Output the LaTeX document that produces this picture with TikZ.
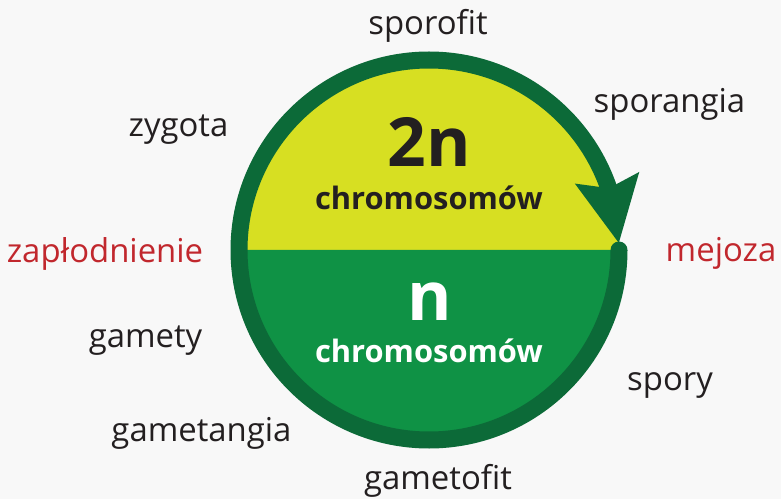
\documentclass[tikz,border=0pt]{standalone}
\usepackage{fontspec}
\setmainfont{Open Sans}
\usetikzlibrary{arrows.meta,bending}
\definecolor{ringgreen}{HTML}{0C6A38}
\definecolor{diplo}{HTML}{D7DF22}
\definecolor{haplo}{HTML}{0F9245}
\definecolor{labelred}{HTML}{C1272D}
\definecolor{labeltext}{HTML}{231F20}
\definecolor{bggray}{HTML}{F8F8F8}

\begin{document}
\begin{tikzpicture}[x=1bp, y=1bp,
        lbl/.style={anchor=base, inner sep=0pt, font=\fontsize{33}{36}\selectfont, text=labeltext},
        event/.style={lbl, text=labelred},
        ploidy/.style={anchor=base, inner sep=0pt, font=\fontsize{68}{70}\selectfont\bfseries},
        chrom/.style={anchor=base, inner sep=0pt, font=\fontsize{31}{34}\selectfont\bfseries},
        lifecycle/.style={line width=17bp, draw=ringgreen, line cap=round,
            -{Stealth[length=65bp, width=62bp, inset=9bp, flex]}}
    ]
        \fill[bggray] (0,0) rectangle (781,-499);
        \useasboundingbox (0,0) rectangle (781,-499);
        \coordinate (c) at (429,-250);

        % two halves of the disc
        \fill[diplo] (c) ++(190,0) arc[start angle=0, end angle=180, radius=190] -- cycle;
        \fill[haplo] (c) ++(-190,0) arc[start angle=180, end angle=360, radius=190] -- cycle;

        % ring with arrow
        \draw[lifecycle] (c) ++(0:190) arc[start angle=0, end angle=-358, radius=190];

        \node[ploidy, text=labeltext] (diploid) at (429,-167) {2n};
        \node[chrom, text=labeltext] (diploidchr) at (429,-210) {chromosomów};
        \node[ploidy, text=white] (haploid) at (429.5,-320) {n};
        \node[chrom, text=white] (haploidchr) at (429,-362) {chromosomów};

        \node[lbl] (sporofit) at (428,-35) {sporofit};
        \node[lbl] (sporangia) at (669.5,-113) {sporangia};
        \node[lbl] (zygota) at (178.5,-137) {zygota};
        \node[event] (zaplodnienie) at (105,-263) {zapłodnienie};
        \node[event] (mejoza) at (721,-262) {mejoza};
        \node[lbl] (gamety) at (145.5,-347) {gamety};
        \node[lbl] (spory) at (670,-390) {spory};
        \node[lbl] (gametangia) at (201.5,-441) {gametangia};
        \node[lbl] (gametofit) at (438,-489) {gametofit};
    \end{tikzpicture}
\end{document}
